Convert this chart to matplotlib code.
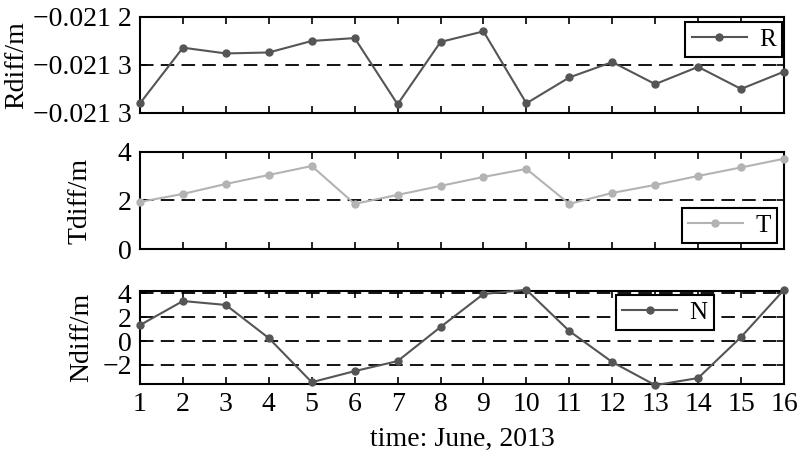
import matplotlib.pyplot as plt

plt.rcParams['font.family'] = ['Liberation Serif', 'DejaVu Serif']
plt.rcParams['font.size'] = 20
plt.rcParams['axes.unicode_minus'] = True

days = list(range(1, 17))

r_diff = [-0.021340, -0.021282, -0.021288, -0.021287, -0.021275, -0.021272,
          -0.021341, -0.021276, -0.021265, -0.021340, -0.021313, -0.021297,
          -0.021320, -0.021302, -0.021325, -0.021307]
t_diff = [1.94, 2.27, 2.68, 3.05, 3.42, 1.86, 2.23, 2.60, 2.97, 3.30,
          1.86, 2.31, 2.64, 3.01, 3.36, 3.72]
n_diff = [1.34, 3.36, 3.03, 0.25, -3.45, -2.52, -1.68, 1.18, 3.95, 4.3,
          0.84, -1.76, -3.7, -3.1, 0.34, 4.3]

r_ticks = [-0.02135, -0.0213, -0.02125]
r_ticklabels = ['\u22120.021 3', '\u22120.021 3', '\u22120.021 2']
t_ticks = [0, 2, 4]
n_ticks = [-2, 0, 2, 4]

dark = '#555555'
light = '#b3b3b3'
dash = (0, (7.5, 4))

fig = plt.figure(figsize=(8, 4.59), dpi=100)
ax1 = fig.add_axes([0.175, 0.754, 0.805, 0.209])
ax2 = fig.add_axes([0.175, 0.4575, 0.805, 0.2115])
ax3 = fig.add_axes([0.175, 0.1634, 0.805, 0.2026])


def style(ax):
    ax.set_xlim(1, 16)
    ax.set_xticks(days)
    ax.tick_params(direction='in', top=True, right=True, length=5, width=1.2, pad=6)
    for s in ax.spines.values():
        s.set_linewidth(1.5)


def add_legend(ax, loc, anchor):
    leg = ax.legend(loc=loc, bbox_to_anchor=anchor, fancybox=False,
                    edgecolor='black', framealpha=1, handlelength=2.2,
                    borderpad=0.25, handletextpad=0.5, borderaxespad=0,
                    fontsize=18)
    leg.get_frame().set_linewidth(1.5)


ax1.plot(days, r_diff, '-o', color=dark, lw=1.5, ms=5, label='R', clip_on=False, zorder=3)
ax1.axhline(-0.0213, color='black', ls=dash, lw=1.3)
ax1.set_ylim(-0.02135, -0.02125)
ax1.set_yticks(r_ticks)
ax1.set_yticklabels(r_ticklabels)
ax1.set_ylabel('Rdiff/m')
ax1.yaxis.set_label_coords(-0.172, 0.5)
style(ax1)
ax1.set_xticklabels([])
add_legend(ax1, 'upper right', (0.997, 0.95))

ax2.plot(days, t_diff, '-o', color=light, lw=1.5, ms=5, label='T', clip_on=False, zorder=3)
ax2.axhline(2, color='black', ls=dash, lw=1.3)
ax2.set_ylim(0, 4)
ax2.set_yticks(t_ticks)
ax2.set_ylabel('Tdiff/m')
ax2.yaxis.set_label_coords(-0.073, 0.5)
style(ax2)
ax2.set_xticklabels([])
add_legend(ax2, 'lower right', (0.989, 0.062))

ax3.plot(days, n_diff, '-o', color=dark, lw=1.5, ms=5, label='N', clip_on=False, zorder=3)
for v in n_ticks:
    ax3.axhline(v, color='black', ls=dash, lw=1.3)
ax3.set_ylim(-3.6, 4.2)
ax3.set_yticks(n_ticks)
ax3.set_ylabel('Ndiff/m')
ax3.yaxis.set_label_coords(-0.071, 0.5)
style(ax3)
ax3.set_xlabel('time: June, 2013', labelpad=7)
add_legend(ax3, 'upper left', (0.739, 0.957))

fig.savefig('out.png', dpi=100)
